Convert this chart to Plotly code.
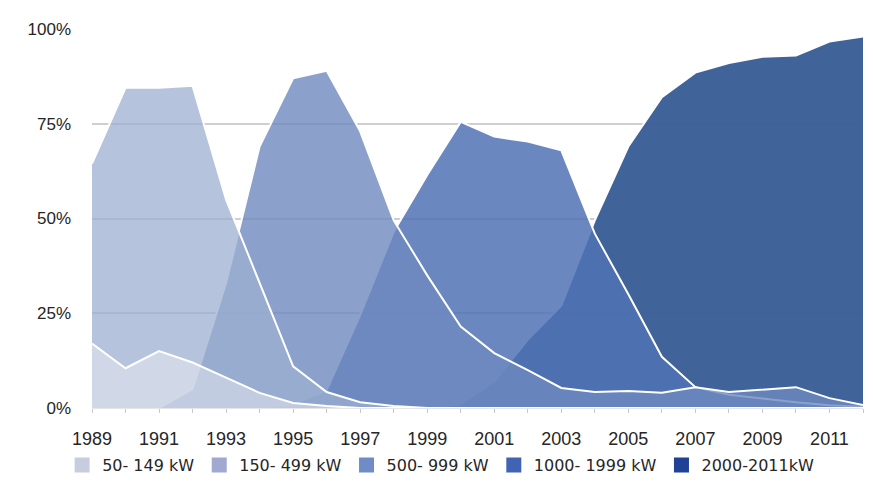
import plotly.graph_objects as go

years = list(range(1989, 2013))

series_names = ["50- 149 kW", "150- 499 kW", "500- 999 kW", "1000- 1999 kW", "2000-2011kW"]

s_50_149 = [17, 10.5, 15, 12, 8, 4, 1.3, 0.5, 0, 0, 0, 0, 0, 0, 0, 0, 0, 0, 0, 0, 0, 0, 0, 0]
s_150_499 = [64.5, 84.5, 84.5, 85, 55, 33, 11, 4.2, 1.5, 0.5, 0, 0, 0, 0, 0, 0, 0, 0, 0, 0, 0, 0, 0, 0]
s_500_999 = [0, 0, 0, 5, 33, 69, 87, 89, 73, 49.5, 35, 21.5, 14.5, 10, 5.3, 4.2, 4.5, 4, 5.5, 4.2, 4.8, 5.5, 2.6, 0.8]
s_1000_1999 = [0, 0, 0, 0, 0, 0, 1, 4.7, 24.5, 46.5, 61.5, 75.5, 71.6, 70.3, 68, 46, 30, 13.5, 5.5, 3.5, 2.5, 1.5, 0.7, 0.3]
s_2000_2011 = [0, 0, 0, 0, 0, 0, 0, 0, 0, 0, 0, 1, 7, 18, 27, 49.5, 69, 82, 88.5, 91, 92.7, 93, 96.7, 98]

series_values = [s_50_149, s_150_499, s_500_999, s_1000_1999, s_2000_2011]

fill_colors = [
    "rgba(235,236,242,0.5)",
    "rgba(156,176,208,0.75)",
    "rgba(110,138,191,0.8)",
    "rgba(80,114,180,0.85)",
    "rgba(58,94,150,0.97)",
]
legend_colors = ["#c8ccdf", "#a1a9d0", "#6f8cc7", "#4064b3", "#1f4196"]

y_tick_vals = [0, 25, 50, 75, 100]
y_tick_text = ["0%", "25%", "50%", "75%", "100%"]
x_tick_text = [str(y) if (y - 1989) % 2 == 0 else "" for y in years]

fig = go.Figure()

# draw back-to-front: largest class at the back
for i in reversed(range(len(series_names))):
    fig.add_trace(go.Scatter(
        x=years, y=series_values[i], mode="lines",
        line=dict(color="white", width=2),
        fill="tozeroy", fillcolor=fill_colors[i],
        name=series_names[i], showlegend=False, hoverinfo="x+y+name",
    ))

for i, nm in enumerate(series_names):
    fig.add_trace(go.Scatter(
        x=[None], y=[None], mode="markers", name=nm,
        marker=dict(symbol="square", size=15, color=legend_colors[i]),
        showlegend=True,
    ))

font_family = "Liberation Sans, Arial, sans-serif"

fig.update_layout(
    width=873, height=493,
    margin=dict(l=84, r=18, t=21, b=93, autoexpand=False),
    paper_bgcolor="white",
    plot_bgcolor="rgba(0,0,0,0)",
    font=dict(family=font_family, size=18, color="#262626"),
    xaxis=dict(
        range=[1989, 2012], tickmode="array", tickvals=years, ticktext=x_tick_text,
        ticks="outside", ticklen=4, tickcolor="#c8c8c8", tickwidth=1,
        showgrid=False, zeroline=False, showline=True, linecolor="#e6e6e6",
        ticklabelstandoff=10, tickfont=dict(size=18, color="#262626"),
        automargin=False,
    ),
    yaxis=dict(
        range=[0, 100], tickmode="array", tickvals=y_tick_vals, ticktext=y_tick_text,
        showgrid=True, gridcolor="#cfcfcf", gridwidth=1.5, zeroline=False,
        showline=False, ticks="", ticklabelstandoff=20,
        tickfont=dict(size=17, color="#262626"), automargin=False,
    ),
    legend=dict(
        orientation="h", xref="container", yref="container",
        x=0.062, xanchor="left", y=0.073, yanchor="middle",
        font=dict(family="DejaVu Sans, sans-serif", size=16, color="#262626"),
        bgcolor="rgba(0,0,0,0)",
        itemclick=False, itemdoubleclick=False,
    ),
)

fig.write_html("out.html")
